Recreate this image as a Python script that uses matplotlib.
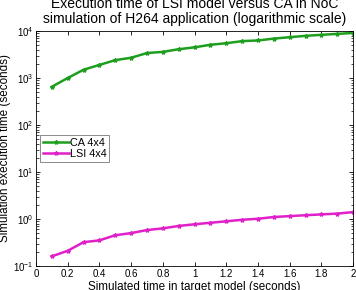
import matplotlib
matplotlib.use("Agg")
import matplotlib.pyplot as plt
from matplotlib.ticker import LogLocator, FixedLocator, NullFormatter

plt.rcParams['font.family'] = ['Liberation Sans', 'DejaVu Sans']
plt.rcParams['mathtext.fontset'] = 'custom'
plt.rcParams['mathtext.rm'] = 'Liberation Sans'
plt.rcParams['mathtext.it'] = 'Liberation Sans'

sim_time = [0.1, 0.2, 0.3, 0.4, 0.5, 0.6, 0.7, 0.8, 0.9, 1.0,
            1.1, 1.2, 1.3, 1.4, 1.5, 1.6, 1.7, 1.8, 1.9, 2.0]
ca_4x4 = [650, 1000, 1500, 1900, 2400, 2700, 3400, 3600, 4100, 4500,
          5100, 5500, 6100, 6300, 6900, 7400, 7900, 8300, 8700, 9100]
lsi_4x4 = [0.16, 0.21, 0.32, 0.35, 0.45, 0.50, 0.58, 0.63, 0.71, 0.77,
           0.83, 0.89, 0.96, 1.01, 1.10, 1.15, 1.20, 1.25, 1.30, 1.40]
x_ticks = [0, 0.2, 0.4, 0.6, 0.8, 1, 1.2, 1.4, 1.6, 1.8, 2]
x_tick_labels = ['0', '0.2', '0.4', '0.6', '0.8', '1', '1.2', '1.4', '1.6', '1.8', '2']

fig = plt.figure(figsize=(3.56, 2.90), dpi=100)
ax = fig.add_axes([0.101, 0.083, 0.891, 0.810])

ax.plot(sim_time, ca_4x4, color='#1E9E1E', lw=1.8, marker='*', ms=3, label='CA 4x4')
ax.plot(sim_time, lsi_4x4, color='#E020C8', lw=1.8, marker='*', ms=3, label='LSI 4x4')

ax.set_yscale('log')
ax.set_xlim(0, 2)
ax.set_ylim(1e-1, 1e4)
ax.xaxis.set_major_locator(FixedLocator(x_ticks))
ax.set_xticklabels(x_tick_labels)
ax.yaxis.set_major_locator(LogLocator(base=10, numticks=10))
ax.yaxis.set_minor_locator(LogLocator(base=10, subs=range(2, 10), numticks=20))
ax.yaxis.set_minor_formatter(NullFormatter())

ax.tick_params(which='both', direction='in', top=True, right=True, labelsize=7, pad=2)
ax.tick_params(which='major', length=3, width=0.6)
ax.tick_params(which='minor', length=1.8, width=0.5)
for s in ax.spines.values():
    s.set_linewidth(0.6)

ax.set_title('Execution time of LSI model versus CA in NoC\nsimulation of H264 application (logarithmic scale)',
             fontsize=10, pad=6, linespacing=1.05)
ax.set_xlabel('Simulated time in target model (seconds)', fontsize=8.4, labelpad=2)
ax.set_ylabel('Simulation execution time (seconds)', fontsize=8.4, labelpad=1)

leg = ax.legend(loc='upper left', bbox_to_anchor=(0.013, 0.557), fontsize=7.8,
                frameon=True, fancybox=False, edgecolor='#555555', handlelength=2.4,
                handletextpad=0.1, borderpad=0.25, labelspacing=0.1, borderaxespad=0)
leg.get_frame().set_linewidth(0.6)

fig.savefig('out.png', dpi=100)
